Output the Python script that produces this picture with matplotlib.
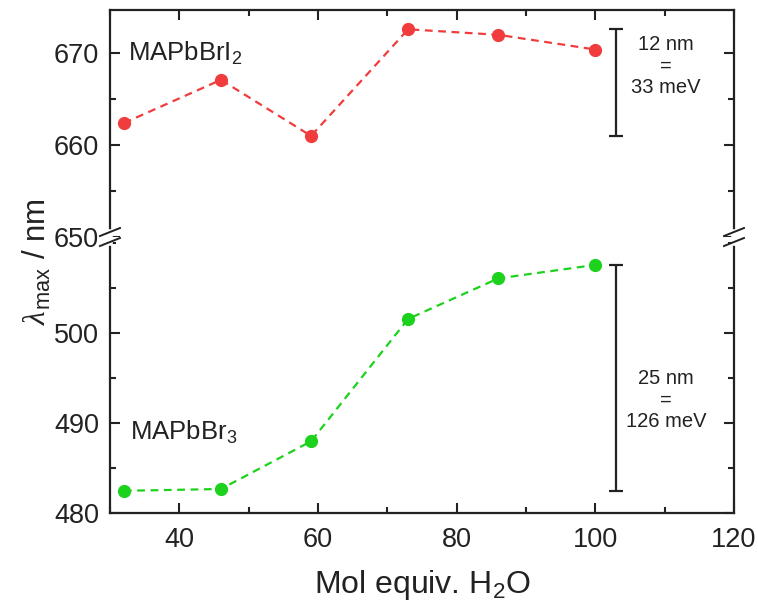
import numpy as np
import matplotlib
matplotlib.use("Agg")
import matplotlib.pyplot as plt
from matplotlib.lines import Line2D
from matplotlib.ticker import MultipleLocator, FixedLocator

plt.rcParams['font.family'] = ['Liberation Sans', 'DejaVu Sans']
plt.rcParams['mathtext.fontset'] = 'custom'
plt.rcParams['mathtext.rm'] = 'Liberation Sans'
plt.rcParams['mathtext.it'] = 'Liberation Sans:italic'
plt.rcParams['mathtext.bf'] = 'Liberation Sans:bold'

# data
water = [32, 46, 59, 73, 86, 100]
lam_brI2 = [662.4, 667.1, 661.0, 672.6, 672.0, 670.4]
lam_br3 = [482.5, 482.7, 488.0, 501.6, 506.1, 507.6]

# scale bars: (x, y_low, y_high, label)
bar_top = (103, 661.0, 672.6, "12 nm\n=\n33 meV")
bar_bot = (103, 482.5, 507.6, "25 nm\n=\n126 meV")

top_ticks = [650, 660, 670]
bot_ticks = [480, 490, 500]

red = '#F03C3C'
green = '#1CD21C'
ink = '#222222'

W, H = 758, 603
fig = plt.figure(figsize=(W / 100, H / 100), dpi=100)

left, right = 110 / W, 734 / W
y_top, y_brk, y_bot = 1 - 10 / H, 1 - 237 / H, 1 - 513.3 / H

ax_t = fig.add_axes([left, y_brk, right - left, y_top - y_brk])
ax_b = fig.add_axes([left, y_bot, right - left, y_brk - y_bot], sharex=ax_t)

ax_t.set_ylim(650, 674.7)
ax_b.set_ylim(480, 510.7)
ax_b.set_xlim(30, 120)

line_kw = dict(ls=(0, (3.5, 2.5)), lw=1.6, marker='o', ms=8.5)
ax_t.plot(water, lam_brI2, color=red, **line_kw)
ax_b.plot(water, lam_br3, color=green, **line_kw)

for ax, (bx, lo, hi, txt), ty in [(ax_t, bar_top, 668.6), (ax_b, bar_bot, 492.6)]:
    ax.errorbar([bx], [(lo + hi) / 2], yerr=[[(hi - lo) / 2], [(hi - lo) / 2]],
                fmt='none', ecolor=ink, elinewidth=1.6, capsize=5, capthick=1.6)
    ax.text(110.2, ty, txt, ha='center', va='center', fontsize=14.5,
            linespacing=1.15, color=ink)

ax_t.text(32.6, 670, r"MAPbBrI$_2$", fontsize=18.5, va='center', ha='left', color=ink)
ax_b.text(32.9, 489, r"MAPbBr$_3$", fontsize=18.5, va='center', ha='left', color=ink)

ax_t.yaxis.set_major_locator(FixedLocator(top_ticks))
ax_b.yaxis.set_major_locator(FixedLocator(bot_ticks))
for ax in (ax_t, ax_b):
    ax.xaxis.set_major_locator(MultipleLocator(20))
    ax.xaxis.set_minor_locator(MultipleLocator(10))
    ax.yaxis.set_minor_locator(MultipleLocator(5))
    ax.tick_params(which='both', direction='in', width=1.5, colors=ink,
                   labelsize=19.5, right=True, top=(ax is ax_t), bottom=(ax is ax_b))
    ax.tick_params(which='major', length=7)
    ax.tick_params(which='minor', length=4)
    for s in ax.spines.values():
        s.set_linewidth(1.6)
        s.set_color(ink)

ax_t.spines['bottom'].set_visible(False)
ax_b.spines['top'].set_visible(False)
ax_t.tick_params(labelbottom=False)
ax_t.tick_params(axis='y', pad=8)
ax_b.tick_params(axis='y', pad=8)
ax_b.tick_params(axis='x', pad=10)

# break marks on both y spines
for xp in (110, 734):
    fig.add_artist(Line2D([xp / W, xp / W], [1 - 232 / H, 1 - 243 / H],
                          transform=fig.transFigure, color='white', lw=4, zorder=10))
    for yp in (232, 242):
        fig.add_artist(Line2D([(xp - 10) / W, (xp + 10) / W],
                              [1 - (yp + 4) / H, 1 - (yp - 4) / H],
                              transform=fig.transFigure, color=ink, lw=1.4, zorder=11))

# y label: serif italic lambda + sans "max / nm", stacked along a vertical baseline
lab_kw = dict(rotation=90, rotation_mode='anchor', ha='left', va='baseline',
              fontsize=22.5, color=ink)
x_base = 46 / W
t_lam = fig.text(x_base, 0.5, "\u03bb", family='Liberation Serif', style='italic', **lab_kw)
t_rest = fig.text(x_base, 0.5, r"$_{\rm max}$ / nm", **lab_kw)
rend = fig.canvas.get_renderer()
h1 = t_lam.get_window_extent(rend).height
h2 = t_rest.get_window_extent(rend).height
y0 = (H - 262) - (h1 + h2) / 2
t_lam.set_y(y0 / H)
t_rest.set_y((y0 + h1 + 1) / H)

fig.text(422 / W, 1 - 585 / H, r"Mol equiv. H$_2$O", ha='center', va='center',
         fontsize=23, color=ink)

fig.savefig("out.png", dpi=100)
